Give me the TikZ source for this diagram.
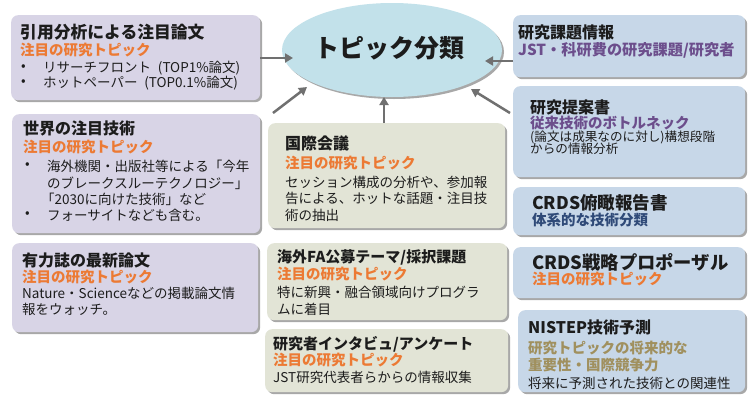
\documentclass[tikz,border=0pt]{standalone}
\usepackage{fontspec}
\setmainfont{Noto Sans CJK JP}
\usetikzlibrary{shapes.geometric,shadows,arrows.meta}
\definecolor{lavfill}{HTML}{D8D4E6}
\definecolor{grnfill}{HTML}{E2E4D6}
\definecolor{bluefill}{HTML}{C7D7E8}
\definecolor{ellfill}{HTML}{C2E1EA}
\definecolor{orng}{HTML}{EC7A34}
\definecolor{purp}{HTML}{6C4E8C}
\definecolor{navy}{HTML}{2F4A78}
\definecolor{olive}{HTML}{A0905E}
\definecolor{arrgray}{HTML}{707070}
\definecolor{ink}{HTML}{1C1C1C}
\begin{document}
\begin{tikzpicture}[x=1pt,y=-1pt,
  box/.style={rectangle,rounded corners=7pt,anchor=north west,inner sep=0pt,
    drop shadow={shadow xshift=2pt,shadow yshift=-2pt,fill=gray!80,opacity=0.85}},
  lbox/.style={box,fill=lavfill},
  cbox/.style={box,fill=grnfill},
  rbox/.style={box,fill=bluefill},
  txt/.style={anchor=west,inner sep=0pt,text=ink},
  ttl/.style={txt,font=\fontsize{16}{16}\selectfont\bfseries},
  ttlsm/.style={txt,font=\fontsize{15}{15}\selectfont\bfseries},
  ttlbig/.style={txt,font=\fontsize{17.5}{17.5}\selectfont\bfseries},
  sub/.style={txt,font=\fontsize{14.5}{14.5}\selectfont\bfseries,text=orng},
  bod/.style={txt,font=\fontsize{13.5}{13.5}\selectfont},
  bodsm/.style={txt,font=\fontsize{12.6}{12.6}\selectfont},
  arr/.style={draw=arrgray,line width=2.5pt,-{Triangle[length=8pt,width=9pt]}}
]
\useasboundingbox (0,0) rectangle (755,394);
\fill[white] (0,0) rectangle (755,394);

% central ellipse
\node[ellipse,fill=ellfill,minimum width=220pt,minimum height=94pt,inner sep=0pt,
  drop shadow={shadow xshift=2pt,shadow yshift=-2pt,fill=gray!80,opacity=0.85}]
  (ell) at (392,50) {};
\node[inner sep=0pt,font=\fontsize{25}{25}\selectfont\bfseries,text=ink] (elltxt) at (389,48) {トピック分類};

% left boxes
\node[lbox,minimum width=249pt,minimum height=85pt] (L1) at (11,15) {};
\node[ttl,font=\fontsize{16.8}{16.8}\selectfont\bfseries] (L1t) at (20,32) {引用分析による注目論文};
\node[sub] (L1s) at (20,50) {注目の研究トピック};
\node[bod] (L1b1) at (21,68) {•};
\node[bod] (L1a) at (43,68) {リサーチフロント\hspace{0.5em}(TOP1\%論文)};
\node[bod] (L1b2) at (21,83) {•};
\node[bod] (L1c) at (43,83) {ホットペーパー\hspace{0.5em}(TOP0.1\%論文)};

\node[lbox,minimum width=248pt,minimum height=119pt] (L2) at (12,114) {};
\node[ttl] (L2t) at (23,128) {世界の注目技術};
\node[sub] (L2s) at (23,147) {注目の研究トピック};
\node[bod] (L2b1) at (25,166) {•};
\node[bod] (L2a) at (47,166) {海外機関・出版社等による「今年};
\node[bod] (L2c) at (47,183) {のブレークスルーテクノロジー」};
\node[bod] (L2d) at (41,199) {「2030に向けた技術」など};
\node[bod] (L2b2) at (25,215) {•};
\node[bod] (L2e) at (47,215) {フォーサイトなども含む。};

\node[lbox,minimum width=246pt,minimum height=89pt] (L3) at (12,243) {};
\node[ttl] (L3t) at (22,260) {有力誌の最新論文};
\node[sub] (L3s) at (22,277) {注目の研究トピック};
\node[bod] (L3a) at (22,293) {Nature・Scienceなどの掲載論文情};
\node[bod] (L3b) at (22,309) {報をウォッチ。};

% center boxes
\node[cbox,minimum width=237pt,minimum height=105pt] (C1) at (268,123) {};
\node[ttl] (C1t) at (285,143) {国際会議};
\node[sub] (C1s) at (285,163) {注目の研究トピック};
\node[bod] (C1a) at (285,182) {セッション構成の分析や、参加報};
\node[bod] (C1b) at (285,198) {告による、ホットな話題・注目技};
\node[bod] (C1c) at (285,215) {術の抽出};

\node[cbox,minimum width=240pt,minimum height=77pt] (C2) at (267,243) {};
\node[ttlsm] (C2t) at (277,257) {海外FA公募テーマ/採択課題};
\node[sub] (C2s) at (277,274) {注目の研究トピック};
\node[bod] (C2a) at (277,292) {特に新興・融合領域向けプログラ};
\node[bod] (C2b) at (277,309) {ムに着目};

\node[cbox,minimum width=243pt,minimum height=63pt] (C3) at (265,329) {};
\node[ttlsm] (C3t) at (273,344) {研究者インタビュ/アンケート};
\node[sub] (C3s) at (273,360) {注目の研究トピック};
\node[bod] (C3a) at (273,377) {JST研究代表者らからの情報収集};

% right boxes
\node[rbox,minimum width=232pt,minimum height=62pt] (R1) at (513,15) {};
\node[ttl] (R1t) at (518,32) {研究課題情報};
\node[sub,text=purp,font=\fontsize{15.2}{15.2}\selectfont\bfseries] (R1s) at (518,50) {JST・科研費の研究課題/研究者};

\node[rbox,minimum width=232pt,minimum height=91pt] (R2) at (513,86) {};
\node[ttl] (R2t) at (530,107) {研究提案書};
\node[sub,text=purp] (R2s) at (530,123) {従来技術のボトルネック};
\node[bodsm] (R2a) at (530,137) {(論文は成果なのに対し)構想段階};
\node[bodsm] (R2b) at (530,149) {からの情報分析};

\node[rbox,minimum width=232pt,minimum height=48pt] (R3) at (513,187) {};
\node[ttlbig] (R3t) at (532,203) {CRDS俯瞰報告書};
\node[sub,text=navy] (R3s) at (532,220) {体系的な技術分類};

\node[rbox,minimum width=232pt,minimum height=51pt] (R4) at (513,247) {};
\node[ttlbig,font=\fontsize{18.3}{18.3}\selectfont\bfseries] (R4t) at (532,262) {CRDS戦略プロポーザル};
\node[sub] (R4s) at (532,279) {注目の研究トピック};

\node[rbox,minimum width=227pt,minimum height=82pt] (R5) at (518,310) {};
\node[ttl] (R5t) at (528,327) {NISTEP技術予測};
\node[sub,text=olive] (R5s) at (528,348) {研究トピックの将来的な};
\node[sub,text=olive] (R5s2) at (528,365) {重要性・国際競争力};
\node[bod] (R5a) at (528,383) {将来に予測された技術との関連性};

% arrows
\coordinate (tL1) at (293,58);
\coordinate (sL2) at (273,113);
\coordinate (tL2) at (307,87);
\coordinate (tC1) at (384,97);
\coordinate (tR1) at (485,61);
\coordinate (sR2) at (510,113);
\coordinate (tR2) at (471,89);
\draw[arr] (L1.east |- tL1) -- (tL1);
\draw[arr] (sL2) -- (tL2);
\draw[arr] (tC1 |- C1.north) -- (tC1);
\draw[arr] (R1.west |- tR1) -- (tR1);
\draw[arr] (sR2) -- (tR2);
\end{tikzpicture}
\end{document}
